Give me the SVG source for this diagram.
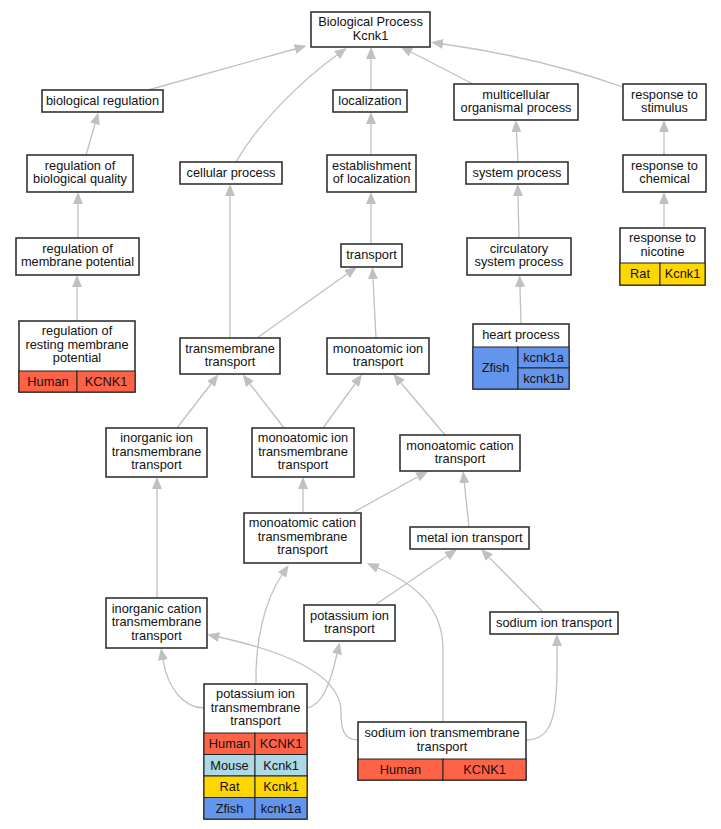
<svg xmlns="http://www.w3.org/2000/svg" width="721" height="829" viewBox="0 0 721 829">
<defs>
<marker id="ah" viewBox="0 0 12 10" refX="0" refY="5" markerWidth="12" markerHeight="10" markerUnits="userSpaceOnUse" orient="auto">
<path d="M0,0 L12,5 L0,10 z" fill="#c0c0c0"/>
</marker>
<style>
.n rect.b{fill:#fff;stroke:#333;stroke-width:1.6}
.c{stroke:#222;stroke-width:1}
.hu{fill:#ff6347}.mo{fill:#add8e6}.ra{fill:#ffd700}.zf{fill:#6495ed}
text{font-family:"Liberation Sans",Arial,sans-serif;font-size:12.8px;fill:#111;text-anchor:middle}
#edges path{fill:none;stroke:#c0c0c0;stroke-width:1.3;marker-end:url(#ah)}
</style>
</defs>
<rect width="721" height="829" fill="#fff"/>
<g id="edges">
<path d="M148,90 L295,49"/>
<path d="M236,162 C260,120 305,78 337,55"/>
<path d="M371,90 L371,59"/>
<path d="M473,84 L411,52"/>
<path d="M623,87 C560,65 500,52 443,44"/>
<path d="M86,155 L95,124"/>
<path d="M371,155 L371,124"/>
<path d="M518,162 L516.5,132"/>
<path d="M664,155 L664,132"/>
<path d="M78,238 L78,204"/>
<path d="M77,321 L77,287"/>
<path d="M230,338 L230,196"/>
<path d="M257,338 L347,274"/>
<path d="M371,244 L371,204"/>
<path d="M376,338 L373,279"/>
<path d="M519,238 L518,196"/>
<path d="M521,324 L520,287"/>
<path d="M664,228 L664,204"/>
<path d="M177,428 L211,384"/>
<path d="M284,428 L250,384"/>
<path d="M323,428 L355,384"/>
<path d="M445,435 L401,383"/>
<path d="M303,513 L303,489"/>
<path d="M352,513 L417.5,477"/>
<path d="M469,527 L464.3,483"/>
<path d="M157,598 L157,489"/>
<path d="M204,708 C185,708 168,690 163,660"/>
<path d="M256,684 C255,640 265,600 282,575"/>
<path d="M307,708 C322,705 330,685 337,654"/>
<path d="M358,740 C343,740 341,728 341,712 C341,680 300,655 219,637"/>
<path d="M443,722 L443,650 C443,620 430,590 378,568"/>
<path d="M526,740 C555,740 558,710 557,646"/>
<path d="M375,605 L447,556"/>
<path d="M543,612 L489.4,557.6"/>
</g>
<g id="n1" class="n"><rect class="b" x="311" y="12" width="119" height="35"/><text x="370.5" y="26">Biological Process</text><text x="370.5" y="40">Kcnk1</text></g>
<g id="n2" class="n"><rect class="b" x="42" y="90" width="121" height="22"/><text x="102.5" y="105">biological regulation</text></g>
<g id="n3" class="n"><rect class="b" x="333" y="90" width="74" height="22"/><text x="370" y="105">localization</text></g>
<g id="n4" class="n"><rect class="b" x="454" y="84" width="124" height="36"/><text x="516" y="98.5">multicellular</text><text x="516" y="112">organismal process</text></g>
<g id="n5" class="n"><rect class="b" x="623" y="84" width="83" height="36"/><text x="664.5" y="98.5">response to</text><text x="664.5" y="112">stimulus</text></g>
<g id="n6" class="n"><rect class="b" x="27" y="155" width="106" height="37"/><text x="80" y="169.5">regulation of</text><text x="80" y="183">biological quality</text></g>
<g id="n7" class="n"><rect class="b" x="180" y="162" width="102" height="22"/><text x="231" y="177">cellular process</text></g>
<g id="n8" class="n"><rect class="b" x="327" y="155" width="89" height="37"/><text x="371.5" y="169.5">establishment</text><text x="371.5" y="183">of localization</text></g>
<g id="n9" class="n"><rect class="b" x="466" y="162" width="102" height="22"/><text x="517" y="177">system process</text></g>
<g id="n10" class="n"><rect class="b" x="623" y="155" width="83" height="37"/><text x="664.5" y="169.5">response to</text><text x="664.5" y="183">chemical</text></g>
<g id="n11" class="n"><rect class="b" x="16" y="238" width="123" height="37"/><text x="77.5" y="252.5">regulation of</text><text x="77.5" y="266">membrane potential</text></g>
<g id="n12" class="n"><rect class="b" x="341" y="244" width="61" height="23"/><text x="371.5" y="259">transport</text></g>
<g id="n13" class="n"><rect class="b" x="467" y="238" width="104" height="37"/><text x="519" y="252.5">circulatory</text><text x="519" y="266">system process</text></g>
<g id="n14" class="n"><rect class="b" x="620" y="228" width="85" height="57"/><text x="662.5" y="242">response to</text><text x="662.5" y="255.5">nicotine</text>
<rect class="c ra" x="620" y="263" width="40" height="22"/><rect class="c ra" x="660" y="263" width="45" height="22"/><text x="640" y="278">Rat</text><text x="682.5" y="278">Kcnk1</text></g>
<g id="n15" class="n"><rect class="b" x="473" y="324" width="96" height="65"/><text x="521" y="339">heart process</text>
<rect class="c zf" x="473" y="347" width="45" height="42"/><rect class="c zf" x="518" y="347" width="51" height="21"/><rect class="c zf" x="518" y="368" width="51" height="21"/><text x="495.5" y="372">Zfish</text><text x="543.5" y="362">kcnk1a</text><text x="543.5" y="383">kcnk1b</text></g>
<g id="n16" class="n"><rect class="b" x="19" y="321" width="116" height="71"/><text x="77" y="335">regulation of</text><text x="77" y="348.5">resting membrane</text><text x="77" y="362">potential</text>
<rect class="c hu" x="19" y="371" width="58" height="21"/><rect class="c hu" x="77" y="371" width="58" height="21"/><text x="48" y="386">Human</text><text x="106" y="386">KCNK1</text></g>
<g id="n17" class="n"><rect class="b" x="180" y="338" width="100" height="36"/><text x="230" y="352.5">transmembrane</text><text x="230" y="366">transport</text></g>
<g id="n18" class="n"><rect class="b" x="327" y="338" width="102" height="36"/><text x="378" y="352.5">monoatomic ion</text><text x="378" y="366">transport</text></g>
<g id="n19" class="n"><rect class="b" x="106" y="428" width="101" height="49"/><text x="156.5" y="442">inorganic ion</text><text x="156.5" y="455.5">transmembrane</text><text x="156.5" y="469">transport</text></g>
<g id="n20" class="n"><rect class="b" x="252" y="428" width="102" height="49"/><text x="303" y="442">monoatomic ion</text><text x="303" y="455.5">transmembrane</text><text x="303" y="469">transport</text></g>
<g id="n21" class="n"><rect class="b" x="400" y="435" width="120" height="36"/><text x="460" y="449.5">monoatomic cation</text><text x="460" y="463">transport</text></g>
<g id="n22" class="n"><rect class="b" x="244" y="513" width="117" height="50"/><text x="302.5" y="527">monoatomic cation</text><text x="302.5" y="540.5">transmembrane</text><text x="302.5" y="554">transport</text></g>
<g id="n23" class="n"><rect class="b" x="410" y="527" width="119" height="22"/><text x="469.5" y="542">metal ion transport</text></g>
<g id="n24" class="n"><rect class="b" x="106" y="598" width="101" height="50"/><text x="156.5" y="612.5">inorganic cation</text><text x="156.5" y="626">transmembrane</text><text x="156.5" y="639.5">transport</text></g>
<g id="n25" class="n"><rect class="b" x="304" y="605" width="91" height="36"/><text x="349.5" y="619.5">potassium ion</text><text x="349.5" y="633">transport</text></g>
<g id="n26" class="n"><rect class="b" x="490" y="612" width="128" height="22"/><text x="554" y="627">sodium ion transport</text></g>
<g id="n27" class="n"><rect class="b" x="204" y="684" width="103" height="135"/><text x="255.5" y="698">potassium ion</text><text x="255.5" y="711.5">transmembrane</text><text x="255.5" y="725">transport</text>
<rect class="c hu" x="204" y="733" width="51" height="21.5"/><rect class="c hu" x="255" y="733" width="52" height="21.5"/>
<rect class="c mo" x="204" y="754.5" width="51" height="21.5"/><rect class="c mo" x="255" y="754.5" width="52" height="21.5"/>
<rect class="c ra" x="204" y="776" width="51" height="21.5"/><rect class="c ra" x="255" y="776" width="52" height="21.5"/>
<rect class="c zf" x="204" y="797.5" width="51" height="21.5"/><rect class="c zf" x="255" y="797.5" width="52" height="21.5"/>
<text x="229.5" y="748">Human</text><text x="281" y="748">KCNK1</text>
<text x="229.5" y="769.5">Mouse</text><text x="281" y="769.5">Kcnk1</text>
<text x="229.5" y="791">Rat</text><text x="281" y="791">Kcnk1</text>
<text x="229.5" y="812.5">Zfish</text><text x="281" y="812.5">kcnk1a</text></g>
<g id="n28" class="n"><rect class="b" x="358" y="722" width="168" height="58"/><text x="442" y="737">sodium ion transmembrane</text><text x="442" y="750.5">transport</text>
<rect class="c hu" x="358" y="759" width="85" height="21"/><rect class="c hu" x="443" y="759" width="83" height="21"/><text x="400.5" y="774">Human</text><text x="484.5" y="774">KCNK1</text></g>
</svg>
